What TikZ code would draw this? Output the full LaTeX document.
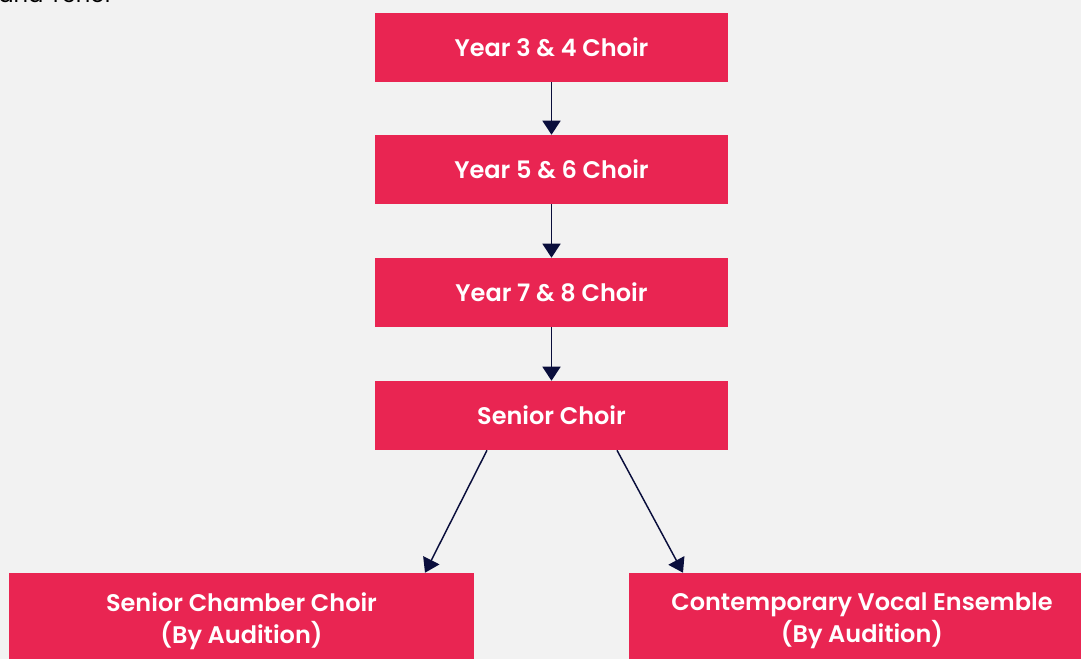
\documentclass[tikz,border=0pt]{standalone}
\usepackage{fontspec}
\setmainfont{Poppins}[BoldFont={Poppins SemiBold}]
\usetikzlibrary{arrows.meta}
\definecolor{choirred}{RGB}{233,37,82}
\definecolor{arrownavy}{RGB}{10,14,60}
\definecolor{backgrey}{RGB}{242,242,242}
\begin{document}
\begin{tikzpicture}[x=0.75pt,y=-0.75pt,
  >={Triangle[width=13.5pt,length=10.5pt]},
  box/.style={fill=choirred,text=white,font=\fontsize{18}{24}\selectfont\bfseries,
    minimum width=264.75pt,minimum height=51.75pt,inner sep=0pt,align=center},
  link/.style={draw=arrownavy,line width=1.1pt}]
  \fill [backgrey] (0,0) rectangle (1081,659);
  \useasboundingbox (0,0) rectangle (1081,659);
  \clip (0,0) rectangle (1081,659);

  \node (top) at (118,3) [anchor=base east,text=black,font=\fontsize{17}{20}\selectfont] {and Tenor} ;

  \node (y34) at (551.5,47.5) [box] {Year 3 \& 4 Choir} ;
  \node (y56) at (551.5,169.5) [box] {Year 5 \& 6 Choir} ;
  \node (y78) at (551.5,292.5) [box] {Year 7 \& 8 Choir} ;
  \node (senior) at (551.5,415.5) [box] {Senior Choir} ;
  \node (chamber) at (241.5,621) [box,minimum width=348.75pt,minimum height=72pt] {Senior Chamber Choir\\(By Audition)} ;
  \node (vocal) at (862,621) [box,minimum width=349.5pt,minimum height=72pt] {Contemporary Vocal Ensemble\\(By Audition)} ;

  \draw [link,->] (y34) -- (y56);
  \draw [link,->] (y56) -- (y78);
  \draw [link,->] (y78) -- (senior);

  \draw [link,->] (senior.south -| 487,0) -- (chamber.north -| 425,0);
  \draw [link,->] (senior.south -| 617,0) -- (vocal.north -| 683,0);
\end{tikzpicture}
\end{document}
